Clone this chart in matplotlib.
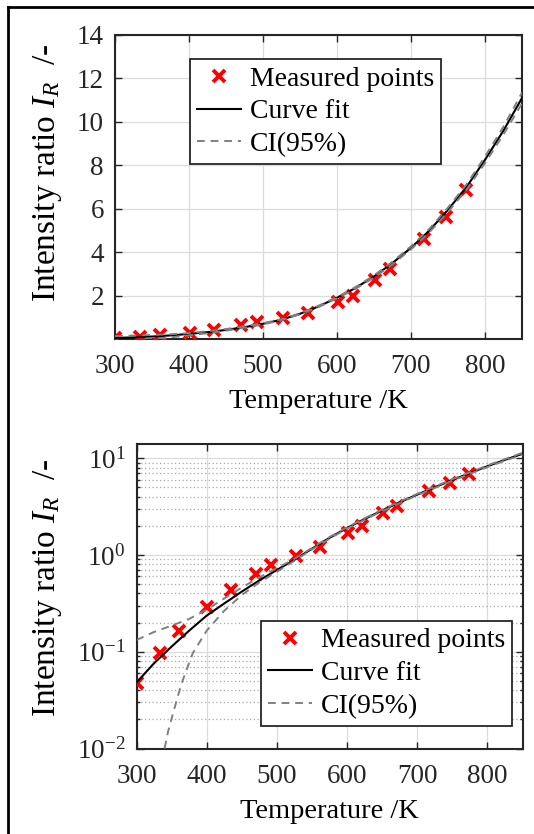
import matplotlib
matplotlib.use('Agg')
import matplotlib.pyplot as plt
from matplotlib.lines import Line2D
from matplotlib.ticker import LogLocator, NullFormatter, LogFormatterMathtext

plt.rcParams['font.family'] = ['Liberation Serif', 'DejaVu Serif']
plt.rcParams['mathtext.fontset'] = 'custom'
plt.rcParams['mathtext.rm'] = 'Liberation Serif'
plt.rcParams['mathtext.it'] = 'Liberation Serif:italic'
plt.rcParams['mathtext.bf'] = 'Liberation Serif:bold'
plt.rcParams['axes.unicode_minus'] = False

# ---- data ----
meas_T = [300, 334, 361, 401, 434, 470, 492, 527, 561, 601, 622, 651, 671, 717, 747, 774]
meas_IR = [0.047, 0.098, 0.165, 0.292, 0.433, 0.63, 0.78, 0.975, 1.21, 1.69, 2.0, 2.72, 3.24, 4.62, 5.6, 6.85]

fit_T = [300, 325, 350, 375, 400, 425, 450, 475, 500, 525, 550, 575, 600, 625, 650, 675,
         700, 725, 750, 775, 800, 825, 850]
fit_IR = [0.048, 0.076, 0.113, 0.165, 0.236, 0.315, 0.418, 0.545, 0.70, 0.89, 1.16, 1.50,
          1.90, 2.35, 2.88, 3.50, 4.20, 5.00, 5.95, 7.00, 8.25, 9.60, 11.1]

ci_up_T = fit_T
ci_up_IR = [0.132, 0.160, 0.186, 0.218, 0.272, 0.355, 0.46, 0.585, 0.73, 0.91, 1.18, 1.53,
            1.93, 2.39, 2.93, 3.56, 4.27, 5.08, 6.05, 7.12, 8.40, 9.78, 11.35]

ci_lo_T = [340, 345, 352, 360, 366, 380, 400, 425, 450, 475, 500, 525, 550, 575, 600, 625,
           650, 675, 700, 725, 750, 775, 800, 825, 850]
ci_lo_IR = [0.010, 0.015, 0.023, 0.037, 0.051, 0.096, 0.165, 0.265, 0.385, 0.52, 0.67, 0.87,
            1.14, 1.47, 1.87, 2.31, 2.83, 3.44, 4.13, 4.92, 5.85, 6.88, 8.10, 9.42, 10.85]

x_ticks = [300, 400, 500, 600, 700, 800]
y_ticks_lin = [2, 4, 6, 8, 10, 12, 14]

labels = ['Measured points', 'Curve fit', 'CI(95%)']
xlabel = 'Temperature /K'
ylabel = 'Intensity ratio $I_R$  /-'

TICK_FS = 19.5
LAB_FS = 20.5
YLAB_FS = 24
LEG_FS = 20
TXT = '#262626'
GRID = '#dcdcdc'

fig = plt.figure(figsize=(5.34, 8.34), dpi=100)

ax1 = fig.add_axes([115/534, 1-339/834, 407/534, 304/834])
ax2 = fig.add_axes([136.5/534, 1-748.5/834, 386/534, 304.5/834])


def draw(ax):
    ax.plot(meas_T, meas_IR, linestyle='none', marker='x', color='#ff0000',
            markersize=9, markeredgewidth=2.8, label=labels[0], zorder=3)
    ax.plot(fit_T, fit_IR, color='black', lw=1.5, label=labels[1], zorder=4)
    ax.plot(ci_up_T, ci_up_IR, color='#808080', lw=1.4, ls=(0, (4, 3)), label=labels[2], zorder=4)
    ax.plot(ci_lo_T, ci_lo_IR, color='#808080', lw=1.4, ls=(0, (4, 3)), zorder=4)
    ax.set_xlim(300, 850)
    ax.set_xticks(x_ticks)
    ax.tick_params(which='both', direction='in', top=True, right=True,
                   labelsize=TICK_FS, colors=TXT, width=1.0)
    ax.tick_params(which='major', length=5)
    ax.tick_params(axis='x', which='major', pad=11)
    ax.tick_params(axis='y', which='major', pad=8)
    ax.tick_params(which='minor', length=2.5)
    for s in ax.spines.values():
        s.set_linewidth(1.5)
        s.set_color('#262626')
    ax.set_xlabel(xlabel, fontsize=LAB_FS, color='black', labelpad=7)
    ax.set_axisbelow(True)


def add_legend(ax, anchor):
    leg = ax.legend(loc='upper left', bbox_to_anchor=anchor, borderaxespad=0,
                    fontsize=LEG_FS, frameon=True, fancybox=False, edgecolor='#262626',
                    framealpha=1, borderpad=0.25, labelspacing=0.26, handlelength=1.6,
                    handletextpad=0.3, numpoints=1)
    leg.get_frame().set_linewidth(1.3)
    return leg


draw(ax1)
ax1.set_ylim(0, 14)
ax1.set_yticks(y_ticks_lin)
ax1.grid(True, which='major', color=GRID, lw=0.9)
add_legend(ax1, (0.184, 0.920))

draw(ax2)
ax2.set_yscale('log')
ax2.set_ylim(0.01, 14)
ax2.yaxis.set_major_locator(LogLocator(base=10, numticks=10))
ax2.yaxis.set_major_formatter(LogFormatterMathtext())
ax2.yaxis.set_minor_locator(LogLocator(base=10, subs=range(2, 10), numticks=20))
ax2.yaxis.set_minor_formatter(NullFormatter())
ax2.grid(True, which='major', color=GRID, lw=0.9)
ax2.grid(True, which='minor', axis='y', color='#a8a8a8', lw=0.9, ls=(0, (1, 2)))
add_legend(ax2, (0.3225, 0.4187))

for ax, yc in ((ax1, 0.793), (ax2, 0.2956)):
    ax.set_ylabel(ylabel, fontsize=YLAB_FS, color='black', va='center')
    ax.yaxis.set_label_coords(48/534, yc, transform=fig.transFigure)

# figure frame (top and left edges)
fig.add_artist(Line2D([8/534, 1.0], [1-7/834, 1-7/834], transform=fig.transFigure,
                      color='black', lw=2.0))
fig.add_artist(Line2D([8/534, 8/534], [0.0, 1-7/834], transform=fig.transFigure,
                      color='black', lw=2.0))

fig.savefig('out.png', dpi=100)
